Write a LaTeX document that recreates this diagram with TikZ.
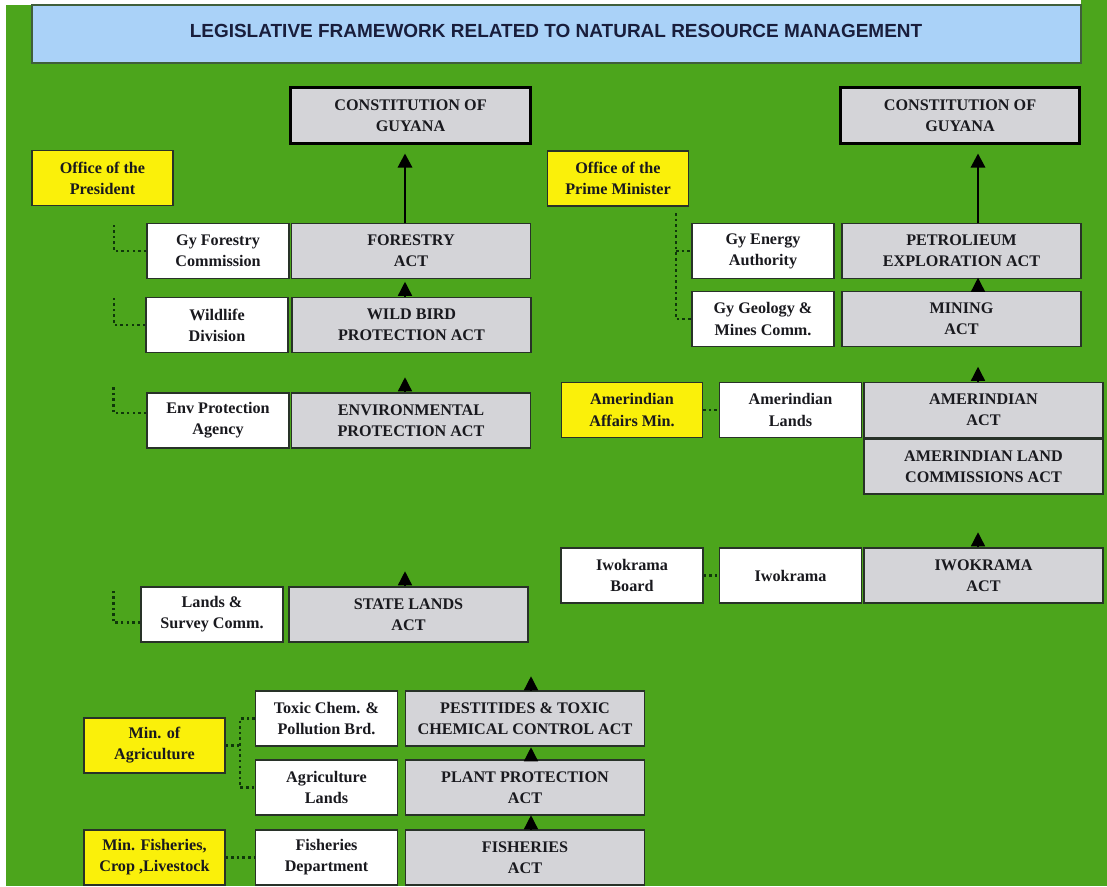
\documentclass[tikz,border=0pt]{standalone}
\usepackage{fontspec}
\setmainfont{Liberation Serif}
\newfontfamily\titlefont{Liberation Sans}
\usetikzlibrary{arrows.meta}
\definecolor{bggreen}{RGB}{76,165,28}
\definecolor{titleblue}{RGB}{170,210,248}
\definecolor{titleink}{RGB}{25,30,60}
\definecolor{actgray}{RGB}{212,212,216}
\definecolor{officeyellow}{RGB}{250,240,10}
\definecolor{linegreen}{RGB}{15,55,10}
\definecolor{boxline}{RGB}{40,50,40}
\definecolor{inkdark}{RGB}{25,25,30}

\begin{document}
\begin{tikzpicture}[x=0.25mm, y=-0.25mm,
    box/.style={draw=boxline, line width=0.9pt, align=center, inner sep=0pt, text=inkdark,
      font=\fontsize{11.5}{15}\selectfont\bfseries, minimum height=13.8mm},
    actbox/.style={box, fill=actgray, minimum width=59.8mm},
    unitbox/.style={box, fill=white, minimum width=35.5mm},
    officebox/.style={box, fill=officeyellow, minimum width=35.2mm},
    constbox/.style={actbox, draw=black, line width=2.2pt, minimum height=14.2mm},
    uparrow/.style={-{Triangle[width=10pt,length=10pt]}, line width=2pt, shorten >=2mm},
    stub/.style={-{Triangle[width=10pt,length=10pt]}, line width=1pt},
    dotline/.style={linegreen, line width=1.8pt, dash pattern=on 1.8pt off 2.2pt}]

  \useasboundingbox (0,0) rectangle (1107,886);
  \fill[bggreen] (6,5) rectangle (1107,886);
  \fill[bggreen] (1081,0) rectangle (1107,5);

  \filldraw[fill=titleblue, draw=linegreen!80, line width=0.8pt] (32,5) rectangle (1081,63);
  \node[text=titleink, font=\titlefont\bfseries\fontsize{13.5}{16}\selectfont] (title) at (556,31)
    {LEGISLATIVE FRAMEWORK RELATED TO NATURAL RESOURCE MANAGEMENT};

  % left column
  \node[constbox] (constL) at (410.5,115.5) {CONSTITUTION OF\\GUYANA};
  \node[officebox] (officeP) at (102.5,178) {Office of the\\President};
  \node[unitbox] (forestc) at (218,251) {Gy Forestry\\Commission};
  \node[actbox] (forestact) at (411,251) {FORESTRY\\ACT};
  \node[unitbox] (wildlife) at (217,325) {Wildlife\\Division};
  \node[actbox] (wildact) at (411.5,325) {WILD BIRD\\PROTECTION ACT};
  \node[unitbox] (envagency) at (218,420.5) {Env Protection\\Agency};
  \node[actbox] (envact) at (411,420.5) {ENVIRONMENTAL\\PROTECTION ACT};
  \node[unitbox] (landsc) at (212,614.5) {Lands \&\\Survey Comm.};
  \node[actbox] (stateact) at (408.5,614.5) {STATE LANDS\\ACT};

  % right column
  \node[constbox] (constR) at (960,115.5) {CONSTITUTION OF\\GUYANA};
  \node[officebox] (officePM) at (618,178.5) {Office of the\\Prime Minister};
  \node[unitbox] (energy) at (763,251) {Gy Energy\\Authority};
  \node[actbox] (petrolact) at (961.5,251) {PETROLIEUM\\EXPLORATION ACT};
  \node[unitbox] (geology) at (763,319) {Gy Geology \&\\Mines Comm.};
  \node[actbox] (miningact) at (961.5,319) {MINING\\ACT};
  \node[officebox] (amerMin) at (632,410) {Amerindian\\Affairs Min.};
  \node[unitbox] (amerLands) at (790.5,410) {Amerindian\\Lands};
  \node[actbox] (amerAct) at (983.5,410) {AMERINDIAN\\ACT};
  \node[actbox] (amerLandAct) at (983.5,466.5) {AMERINDIAN LAND\\COMMISSIONS ACT};
  \node[unitbox] (iwoBoard) at (632,575.5) {Iwokrama\\Board};
  \node[unitbox] (iwo) at (790.5,575.5) {Iwokrama};
  \node[actbox] (iwoAct) at (983.5,575.5) {IWOKRAMA\\ACT};

  % bottom block
  \node[unitbox] (toxic) at (326.5,718.5) {Toxic Chem. \&\\Pollution Brd.};
  \node[actbox] (pestAct) at (525,718.5) {PESTITIDES \& TOXIC\\CHEMICAL CONTROL ACT};
  \node[officebox] (minAgri) at (154.5,745.5) {Min. of\\Agriculture};
  \node[unitbox] (agriLands) at (326.5,787.5) {Agriculture\\Lands};
  \node[actbox] (plantAct) at (525,787.5) {PLANT PROTECTION\\ACT};
  \node[officebox] (minFish) at (154.5,857.5) {Min. Fisheries,\\Crop ,Livestock};
  \node[unitbox] (fishDept) at (326.5,857.5) {Fisheries\\Department};
  \node[actbox] (fishAct) at (525,857.5) {FISHERIES\\ACT};

  \coordinate (colL) at (405,0);
  \coordinate (colR) at (978,0);
  \coordinate (colB) at (531,0);
  \coordinate (busL) at (114,0);
  \coordinate (busA) at (240,0);
  \coordinate (pmtop) at (676,213);

  \draw[uparrow] (colL |- forestact.north) -- (colL |- constL.south);
  \draw[uparrow] (colR |- petrolact.north) -- (colR |- constR.south);
  \draw[stub] (colL |- wildact.north) -- ++(0,-15);
  \draw[stub] (colL |- envact.north) -- ++(0,-15);
  \draw[stub] (colL |- stateact.north) -- ++(0,-15);
  \draw[stub] (colR |- miningact.north) -- ++(0,-13);
  \draw[stub] (colR |- amerAct.north) -- ++(0,-15);
  \draw[stub] (colR |- iwoAct.north) -- ++(0,-15);
  \draw[stub] (colB |- pestAct.north) -- ++(0,-14);
  \draw[stub] (colB |- plantAct.north) -- ++(0,-12);
  \draw[stub] (colB |- fishAct.north) -- ++(0,-14);

  \draw[dotline] (forestc.west) -- (busL |- forestc.west) -- ++(0,-28);
  \draw[dotline] (wildlife.west) -- (busL |- wildlife.west) -- ++(0,-30);
  \draw[dotline] ([yshift=1.9mm]envagency.west) -- ++(-33,0) -- ++(0,-28);
  \draw[dotline] ([yshift=-2mm]landsc.west) -- ++(-27,0) -- ++(0,-32);
  \draw[dotline] (pmtop) -- (pmtop |- geology.west) -- (geology.west);
  \draw[dotline] (pmtop |- energy.west) -- (energy.west);
  \draw[dotline] (amerMin.east) -- (amerLands.west);
  \draw[dotline] (iwoBoard.east) -- (iwo.west);
  \draw[dotline] (toxic.west) -- (busA |- toxic.west) -- (busA |- agriLands.west) -- (agriLands.west);
  \draw[dotline] (minAgri.east) -- (busA |- minAgri.east);
  \draw[dotline] (minFish.east) -- (fishDept.west);
\end{tikzpicture}
\end{document}
